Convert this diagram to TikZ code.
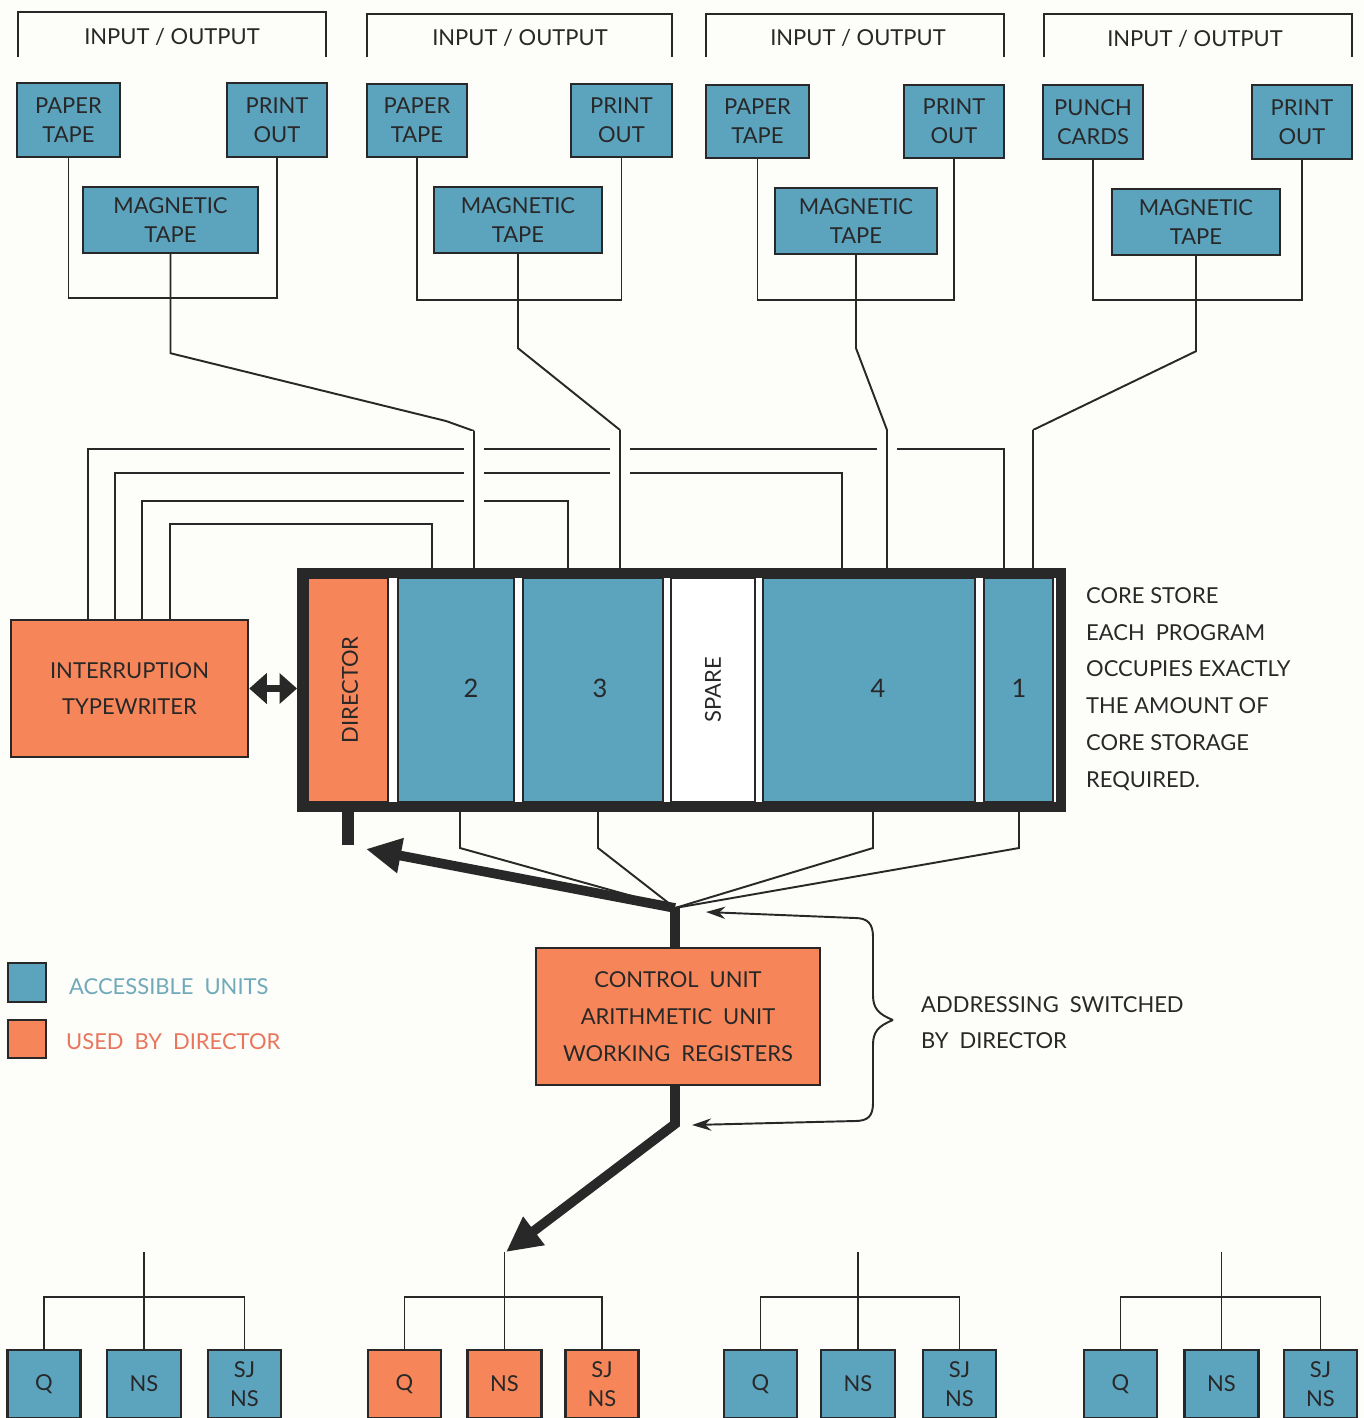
\documentclass[tikz,border=0pt]{standalone}
\usepackage{fontspec}
\setmainfont{Lato}
\usetikzlibrary{arrows.meta}
\definecolor{paper}{RGB}{253,253,249}
\definecolor{unit}{RGB}{92,163,190}
\definecolor{used}{RGB}{246,134,90}
\definecolor{ink}{RGB}{40,40,40}
\definecolor{unittext}{RGB}{112,170,186}
\definecolor{usedtext}{RGB}{233,118,92}
\tikzset{
  wire/.style={draw=ink, line width=1.1pt},
  hop/.style={preaction={draw=paper, line width=11pt}},
  fat/.style={draw=ink, line width=5.5pt},
  box/.style={rectangle, draw=ink, line width=1.4pt, fill=unit, inner sep=0pt, align=center, text=ink},
  slot/.style={rectangle, draw=ink, line width=0.8pt, inner sep=0pt, minimum height=4.48cm},
  digit/.style={text=ink, font=\fontsize{14.5}{16.5}\selectfont},
  bighead/.style={-{Triangle[length=20pt,width=19pt]}},
}
\begin{document}
    \begin{tikzpicture}[x=0.02cm, y=-0.02cm, font=\fontsize{12.5}{16.5}\selectfont]
      \useasboundingbox (0,0) rectangle (1364,1418);
      \fill[paper] (0,0) rectangle (1364,1418);
      \node[rectangle, draw=ink, line width=5.7pt, fill=white, inner sep=0pt, minimum width=15.18cm, minimum height=4.68cm] (core) at (681.5,690) {};
      \node[slot, minimum width=1.6cm] (dir) at (348,690) [fill=used] {};
      \node[slot, minimum width=2.32cm] (p2) at (456,690) [fill=unit] {};
      \node[slot, minimum width=2.8cm] (p3) at (593,690) [fill=unit] {};
      \node[slot, minimum width=1.68cm] (spare) at (713,690) [fill=white] {};
      \node[slot, minimum width=4.24cm] (p4) at (869,690) [fill=unit] {};
      \node[slot, minimum width=1.38cm] (p1) at (1018.5,690) [fill=unit] {};
      \node[rotate=90, text=ink] (dirtext) at (350,690) {DIRECTOR};
      \node[rotate=90, text=ink] (sparetext) at (713,690) {SPARE};
      \node[digit] (t2) at (471,688) {2};
      \node[digit] (t3) at (600,688) {3};
      \node[digit] (t4) at (878,688) {4};
      \node[digit] (t1) at (1019,688) {1};
      \node[box, minimum width=4.74cm, minimum height=2.74cm, font=\fontsize{12.5}{21}\selectfont] (tw) at (129.5,688.5) [fill=used] {INTERRUPTION\\TYPEWRITER};
      \draw[ink, line width=4.5pt, {Triangle[length=10pt,width=17pt]}-{Triangle[length=10pt,width=17pt]}] (tw.east) -- (tw.east -| core.west);

      \draw[wire] (18,57) |- (326,12) -- (326,57);
      \draw[wire] (367,57) |- (672,14) -- (672,57);
      \draw[wire] (706,57) |- (1004,14) -- (1004,57);
      \draw[wire] (1044,57) |- (1352,14) -- (1352,57);
      \node[text=ink] (io1) at (172,37) {INPUT / OUTPUT};
      \node[text=ink] (io2) at (520,38) {INPUT / OUTPUT};
      \node[text=ink] (io3) at (858,38) {INPUT / OUTPUT};
      \node[text=ink] (io4) at (1195,39) {INPUT / OUTPUT};
      \node[box, minimum width=2.06cm, minimum height=1.48cm] (pt1) at (68.5,120) {PAPER\\TAPE};
      \node[box, minimum width=2cm, minimum height=1.48cm] (po1) at (277,120) {PRINT\\OUT};
      \node[box, minimum width=3.5cm, minimum height=1.32cm] (mt1) at (170.5,220) {MAGNETIC\\TAPE};
      \node[box, minimum width=2cm, minimum height=1.46cm] (pt2) at (417,120.5) {PAPER\\TAPE};
      \node[box, minimum width=2.02cm, minimum height=1.46cm] (po2) at (621.5,120.5) {PRINT\\OUT};
      \node[box, minimum width=3.36cm, minimum height=1.32cm] (mt2) at (518,220) {MAGNETIC\\TAPE};
      \node[box, minimum width=2.06cm, minimum height=1.46cm] (pt3) at (757.5,121.5) {PAPER\\TAPE};
      \node[box, minimum width=2cm, minimum height=1.46cm] (po3) at (954,121.5) {PRINT\\OUT};
      \node[box, minimum width=3.24cm, minimum height=1.32cm] (mt3) at (856,221) {MAGNETIC\\TAPE};
      \node[box, minimum width=2cm, minimum height=1.48cm] (pc4) at (1093,122) {PUNCH\\CARDS};
      \node[box, minimum width=2cm, minimum height=1.48cm] (po4) at (1302,122) {PRINT\\OUT};
      \node[box, minimum width=3.36cm, minimum height=1.32cm] (mt4) at (1196,222) {MAGNETIC\\TAPE};
      \draw[wire] (pt1.south) |- (172,298) -| (po1.south);
      \draw[wire] (pt2.south) |- (518,300) -| (po2.south);
      \draw[wire] (pt3.south) |- (856,300) -| (po3.south);
      \draw[wire] (pc4.south) |- (1196,300) -| (po4.south);

      \foreach \xa/\ya/\xb in {88/449/1004, 115/473/842, 142/501/568, 170/524/432}
        \draw[wire] (tw.north -| \xa,0) |- (\xb,\ya) -- (\xb,\ya |- core.north);
      \coordinate (k1) at (474,431);
      \coordinate (k2) at (620,430);
      \coordinate (k3) at (887,430);
      \coordinate (k4) at (1033,430);
      \draw[wire] (mt1.south) -- ++(0,99) -- (446,421) -- (k1);
      \draw[wire] (mt2.south) -- ++(0,94) -- (k2);
      \draw[wire] (mt3.south) -- ++(0,93) -- (k3);
      \draw[wire] (mt4.south) -- ++(0,95) -- (k4);
      \foreach \k in {1,...,4}
        \draw[wire, hop] (k\k) -- (k\k |- core.north);

      \draw[ink, line width=6.5pt] (dir.south |- core.south) -- ++(0,33);
      \coordinate (hub) at (675,908);
      \coordinate (dtip) at (366,849);
      \foreach \x in {460,598,873,1019}
        \draw[wire] (core.south -| \x,0) -- (\x,848) -- (hub);
      \draw[fat, bighead] (hub) -- (dtip);
      \node[box, minimum width=5.68cm, minimum height=2.74cm, font=\fontsize{12.5}{21}\selectfont] (ctl) at (678,1016.5) [fill=used] {CONTROL\enspace UNIT\\ARITHMETIC\enspace UNIT\\WORKING\enspace REGISTERS};
      \draw[fat] (hub) -- (hub |- ctl.north);
      \coordinate (bend) at (675,1124);
      \coordinate (qtip) at (506,1252);
      \draw[fat, bighead] (hub |- ctl.south) -- (bend) -- (qtip);

      \coordinate (brc) at (893,1020);
      \draw[wire, -{Stealth[length=11pt,width=7pt]}] (brc) .. controls (878,1014) and (873,1008) .. (873,995) -- (873,937) .. controls (873,924) and (868,918) .. (855,918) -- (706,912);
      \draw[wire, -{Stealth[length=11pt,width=7pt]}] (brc) .. controls (878,1026) and (873,1032) .. (873,1045) -- (873,1103) .. controls (873,1116) and (868,1121) .. (855,1121) -- (692,1125);
      \node[anchor=west, align=left, text=ink, font=\fontsize{12.5}{20.5}\selectfont] (addr) at (915,1023) {ADDRESSING\enspace SWITCHED\\BY\enspace DIRECTOR};
      \node[anchor=west, align=left, text=ink, font=\fontsize{12.5}{21}\selectfont] (store) at (1080,689) {CORE STORE\\EACH\enspace PROGRAM\\OCCUPIES EXACTLY\\THE AMOUNT OF\\CORE STORAGE\\REQUIRED.};

      \node[box, minimum width=0.76cm, minimum height=0.78cm] (lg1) at (27,982.5) {};
      \node[box, minimum width=0.76cm, minimum height=0.76cm] (lg2) at (27,1039) [fill=used] {};
      \node[anchor=west, text=unittext] (lt1) at (63,987) {ACCESSIBLE\enspace UNITS};
      \node[anchor=west, text=usedtext] (lt2) at (60,1042) {USED\enspace BY\enspace DIRECTOR};

      \foreach \g/\q/\n/\s/\c in {1/44/144/244.5/unit, 2/404.5/504.5/602/used, 3/760.5/858/959.5/unit, 4/1120.5/1221.5/1320.5/unit} {
        \node[box, minimum width=1.46cm, minimum height=1.36cm] (q\g) at (\q,1384) [fill=\c] {Q};
        \node[box, minimum width=1.48cm, minimum height=1.36cm] (n\g) at (\n,1384) [fill=\c] {NS};
        \node[box, minimum width=1.46cm, minimum height=1.36cm] (s\g) at (\s,1384) [fill=\c] {SJ\\NS};
        \draw[wire] (q\g.north) -- ++(0,-52) -| (s\g.north);
        \draw[wire] (n\g.north) -- ++(0,-97);
      }
    \end{tikzpicture}
\end{document}
